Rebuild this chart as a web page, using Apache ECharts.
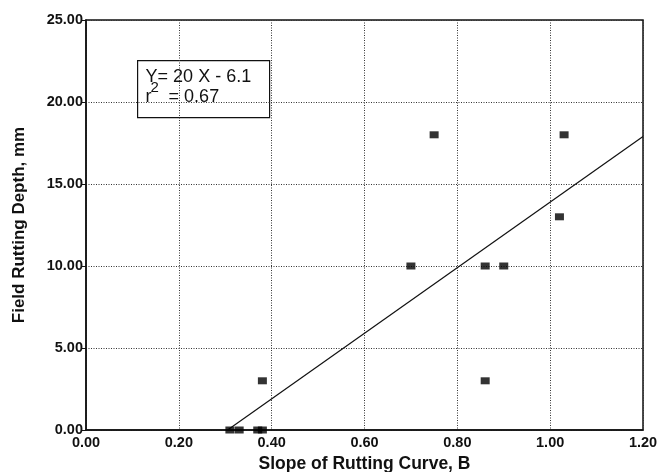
<!DOCTYPE html>
<html>
<head>
<meta charset="utf-8">
<script src="https://cdn.jsdelivr.net/npm/echarts@6/dist/echarts.min.js"></script>
<style>
  html, body { margin: 0; padding: 0; background: #fff; }
  #chart { width: 658px; height: 472px; }
</style>
</head>
<body>
<div id="chart"></div>
<script>
// Measured sections: slope B of the lab rutting curve vs. field rut depth (mm)
const slopeB     = [0.31, 0.33, 0.37, 0.38, 0.38, 0.70, 0.75, 0.86, 0.86, 0.90, 1.02, 1.03];
const rutDepthMm = [0,    0,    0,    0,    3,    10,   18,   10,   3,    10,   13,   18];

// Least-squares fit reported on the chart: Y = 20 X - 6.1, r^2 = 0.67
const fitSlope = 20;
const fitIntercept = -6.1;
const fitR2 = 0.67;
const fitXEnd = 1.2;

const xTicks = [0.0, 0.2, 0.4, 0.6, 0.8, 1.0, 1.2];
const yTicks = [0, 5, 10, 15, 20, 25];

const points = slopeB.map((x, i) => [x, rutDepthMm[i]]);
const fitXStart = -fitIntercept / fitSlope;
const fitLine = [
  [fitXStart, fitSlope * fitXStart + fitIntercept],
  [fitXEnd, fitSlope * fitXEnd + fitIntercept]
];

const font = '"Liberation Sans", Arial, Helvetica, sans-serif';
const boxFont = '18px ' + font;

const chart = echarts.init(document.getElementById('chart'), null, { renderer: 'canvas' });

chart.setOption({
  animation: false,
  backgroundColor: '#ffffff',
  grid: {
    left: 86, right: 15, top: 20, bottom: 42,
    outerBoundsMode: 'none',
    containLabel: false,
    show: true, borderColor: '#111', borderWidth: 1.5, backgroundColor: 'transparent'
  },
  xAxis: {
    type: 'value',
    min: xTicks[0], max: xTicks[xTicks.length - 1], interval: 0.2,
    name: 'Slope of Rutting Curve, B',
    nameLocation: 'middle', nameGap: 23,
    nameTextStyle: { fontFamily: font, fontWeight: 'bold', fontSize: 17.5, color: '#111' },
    axisLine: { show: true, lineStyle: { color: '#111', width: 1.5 } },
    axisTick: { show: false },
    axisLabel: {
      fontFamily: font, fontWeight: 'bold', fontSize: 14.5, color: '#111', margin: 5,
      formatter: v => v.toFixed(2)
    },
    splitLine: { show: true, lineStyle: { color: '#333', type: [1, 1.5], width: 1 } }
  },
  yAxis: {
    type: 'value',
    min: yTicks[0], max: yTicks[yTicks.length - 1], interval: 5,
    name: 'Field Rutting Depth, mm',
    nameLocation: 'middle', nameGap: 58, nameRotate: 90,
    nameTextStyle: { fontFamily: font, fontWeight: 'bold', fontSize: 17, color: '#111' },
    axisLine: { show: true, lineStyle: { color: '#111', width: 1.5 } },
    axisTick: { show: true, length: 5, inside: false, lineStyle: { color: '#111' } },
    axisLabel: {
      fontFamily: font, fontWeight: 'bold', fontSize: 14.5, color: '#111', margin: 3,
      formatter: v => v.toFixed(2)
    },
    splitLine: { show: true, lineStyle: { color: '#333', type: [1, 1.5], width: 1 } }
  },
  series: [
    {
      type: 'line',
      data: fitLine,
      symbol: 'none',
      lineStyle: { color: '#111', width: 1.2 },
      z: 3
    },
    {
      type: 'scatter',
      data: points,
      symbol: 'rect',
      symbolSize: [9, 7],
      itemStyle: { color: '#000' },
      z: 4
    }
  ],
  graphic: [
    {
      type: 'group',
      left: 137, top: 60,
      children: [
        {
          type: 'rect',
          shape: { x: 0, y: 0, width: 132, height: 57 },
          style: { fill: '#fff', stroke: '#111', lineWidth: 1.2 }
        },
        { type: 'text', x: 8, y: 7, style: { text: 'Y', font: boxFont, fill: '#111' } },
        {
          type: 'text', x: 20, y: 7,
          style: {
            text: '= ' + fitSlope + ' X - ' + Math.abs(fitIntercept).toFixed(1),
            font: boxFont, fill: '#111'
          }
        },
        { type: 'text', x: 13, y: 20, style: { text: '2', font: '15px ' + font, fill: '#111' } },
        { type: 'text', x: 8, y: 27, style: { text: 'r', font: boxFont, fill: '#111' } },
        {
          type: 'text', x: 31, y: 27,
          style: { text: '= ' + fitR2.toFixed(2), font: boxFont, fill: '#111' }
        }
      ]
    }
  ]
});
</script>
</body>
</html>
